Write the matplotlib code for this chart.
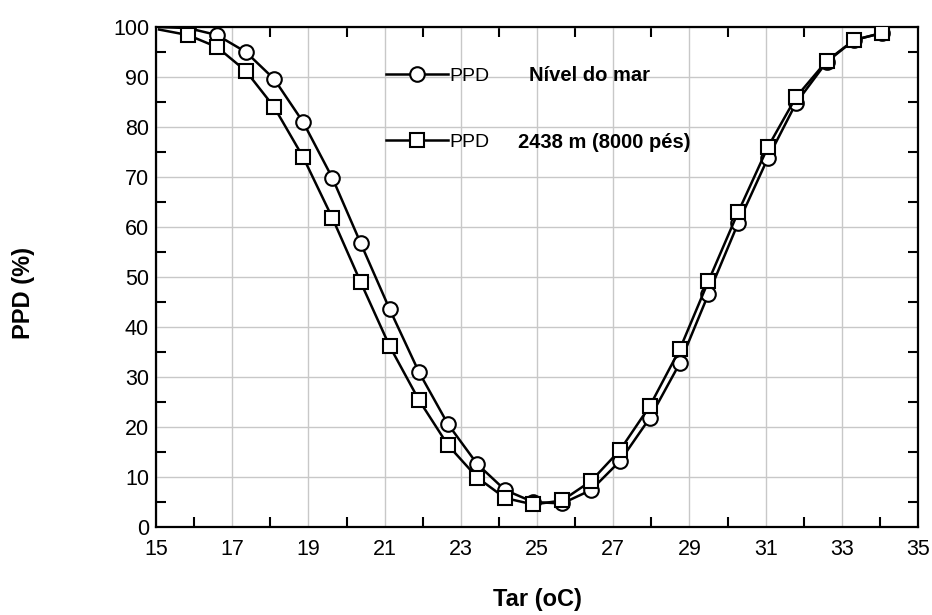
import numpy as np
import matplotlib
matplotlib.use("Agg")
import matplotlib.pyplot as plt
from matplotlib.ticker import MultipleLocator, FixedLocator

plt.rcParams['font.family'] = ['Liberation Sans', 'DejaVu Sans']

# temperatures (oC), shared by both series
tar = [15.08, 15.84, 16.60, 17.36, 18.10, 18.86, 19.63, 20.37, 21.13, 21.90,
       22.66, 23.43, 24.16, 24.90, 25.66, 26.42, 27.18, 27.96, 28.75, 29.50,
       30.28, 31.06, 31.80, 32.60, 33.32, 34.05]
# PPD at sea level (circles)
ppd_mar = [100.0, 99.8, 98.4, 95.0, 89.6, 81.0, 69.8, 56.8, 43.6, 31.0,
           20.6, 12.6, 7.4, 5.0, 4.7, 7.4, 13.2, 21.8, 32.8, 46.6,
           60.8, 73.8, 84.8, 93.0, 97.4, 98.8]
# PPD at 2438 m (squares)
ppd_alt = [99.5, 98.4, 96.0, 91.2, 84.0, 74.0, 61.8, 49.0, 36.2, 25.4,
           16.4, 9.9, 5.8, 4.5, 5.3, 9.2, 15.4, 24.2, 35.6, 49.2,
           63.0, 76.0, 86.0, 93.2, 97.4, 98.8]

fig = plt.figure(figsize=(9.32, 6.15), dpi=100)
ax = fig.add_axes([0.1674, 0.1431, 0.8176, 0.8129])

l1, = ax.plot(tar, ppd_mar, "-o", color="black", lw=1.8, ms=10.5,
              mfc="white", mec="black", mew=1.5, markevery=slice(1, None),
              label="PPD", zorder=3)
l2, = ax.plot(tar, ppd_alt, "-s", color="black", lw=1.8, ms=10.5,
              mfc="white", mec="black", mew=1.5, markevery=slice(1, None),
              label="PPD", zorder=4)

ax.set_xlim(15, 35); ax.set_ylim(0, 100)
ax.xaxis.set_major_locator(FixedLocator(np.arange(15, 36, 2)))
ax.xaxis.set_minor_locator(FixedLocator(np.arange(16, 35, 2)))
ax.yaxis.set_major_locator(MultipleLocator(10))
ax.yaxis.set_minor_locator(FixedLocator(np.arange(5, 100, 10)))
ax.tick_params(which="major", length=0, labelsize=15.5)
ax.tick_params(axis="x", which="major", pad=9)
ax.tick_params(axis="y", which="major", pad=5)
ax.tick_params(which="minor", direction="in", length=7, width=1.5,
               top=True, right=True)
ax.grid(True, which="major", color="#c8c8c8", lw=1)
ax.set_axisbelow(True)
for s in ax.spines.values():
    s.set_linewidth(1.6)

ax.set_xlabel("Tar (oC)", fontsize=17, fontweight="bold", labelpad=20)
ax.set_ylabel("PPD (%)", fontsize=17, fontweight="bold")
ax.yaxis.set_label_coords(-0.159, 0.468)

ax.legend(handles=[l1, l2], loc="upper left", bbox_to_anchor=(0.291, 0.935),
          frameon=False, fontsize=14, handlelength=3.2, handletextpad=0.1,
          labelspacing=2.5, borderaxespad=0)
ax.text(0.4895, 0.904, "Nível do mar", transform=ax.transAxes,
        fontsize=14.5, fontweight="bold", va="center")
ax.text(0.475, 0.77, "2438 m (8000 pés)", transform=ax.transAxes,
        fontsize=14.5, fontweight="bold", va="center")

fig.savefig("out.png", dpi=100)
